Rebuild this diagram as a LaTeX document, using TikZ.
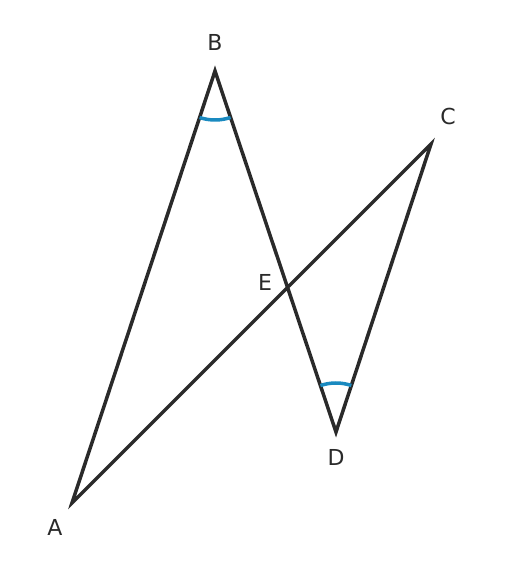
\documentclass[tikz,border=0pt]{standalone}
\usepackage{fontspec}
\setmainfont{DejaVu Sans}
\usetikzlibrary{angles,intersections}
\definecolor{edgegray}{HTML}{2A2A2A}
\definecolor{arcblue}{HTML}{1A8AC0}
\begin{document}
\begin{tikzpicture}[x=1pt,y=1pt,
    side/.style={draw=edgegray, line width=3.5pt, line join=miter},
    anglearc/.style={draw=arcblue, line width=3.5pt, angle radius=49pt},
    ptlabel/.style={text=edgegray, font=\fontsize{22}{26}\selectfont}]
    \useasboundingbox (0,0) rectangle (504,576);
    \coordinate (A) at (72,73);
    \coordinate (B) at (215,505);
    \coordinate (C) at (431,432);
    \coordinate (D) at (336,144);
    \path[name path=ac] (A) -- (C);
    \path[name path=bd] (B) -- (D);
    \path[name intersections={of=ac and bd, by=E}];
    \draw[side] (A) -- (B) -- (D) -- (C) -- cycle;
    \path (B) pic[anglearc] {angle = A--B--D};
    \path (D) pic[anglearc] {angle = C--D--B};
    \node[ptlabel] (labA) at (55,49) {A};
    \node[ptlabel] (labB) at (215,534) {B};
    \node[ptlabel] (labC) at (448,460) {C};
    \node[ptlabel] (labD) at (336,119) {D};
    \node[ptlabel] (labE) at (265,294) {E};
  \end{tikzpicture}
\end{document}
